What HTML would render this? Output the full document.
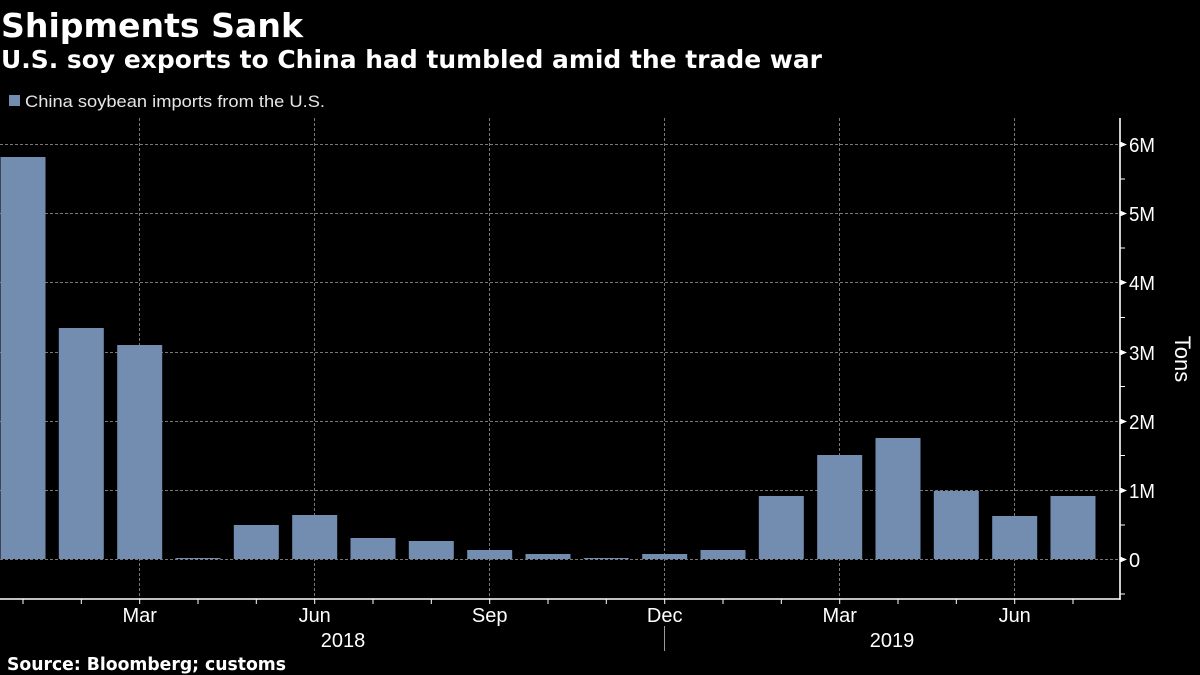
<!DOCTYPE html>
<html>
<head>
<meta charset="utf-8">
<style>
html,body{margin:0;padding:0;background:#000;}
svg{display:block;}
</style>
</head>
<body>
<svg width="1200" height="675" viewBox="0 0 1200 675" xmlns="http://www.w3.org/2000/svg">
<rect x="0" y="0" width="1200" height="675" fill="#000"/>
<!-- Titles -->
<text x="1" y="37" font-family="DejaVu Sans, Liberation Sans, sans-serif" font-weight="bold" font-size="33" fill="#fff" textLength="302" lengthAdjust="spacingAndGlyphs">Shipments Sank</text>
<text x="1" y="68" font-family="DejaVu Sans, Liberation Sans, sans-serif" font-weight="bold" font-size="25" fill="#fff" textLength="821" lengthAdjust="spacingAndGlyphs">U.S. soy exports to China had tumbled amid the trade war</text>
<!-- Legend -->
<rect x="9" y="95" width="11" height="11" fill="#738db0"/>
<text x="25" y="107" font-family="Liberation Sans, sans-serif" font-size="17" fill="#e6e6e6" textLength="300" lengthAdjust="spacingAndGlyphs">China soybean imports from the U.S.</text>

<!-- horizontal gridlines -->
<g stroke="#777" stroke-width="1" stroke-dasharray="3,2">
<line x1="0" y1="144.5" x2="1120" y2="144.5"/>
<line x1="0" y1="213.5" x2="1120" y2="213.5"/>
<line x1="0" y1="282.5" x2="1120" y2="282.5"/>
<line x1="0" y1="352.5" x2="1120" y2="352.5"/>
<line x1="0" y1="421.5" x2="1120" y2="421.5"/>
<line x1="0" y1="490.5" x2="1120" y2="490.5"/>
<line x1="0" y1="559.5" x2="1120" y2="559.5"/>
<!-- vertical gridlines -->
<line x1="139.5" y1="118" x2="139.5" y2="599"/>
<line x1="314.5" y1="118" x2="314.5" y2="599"/>
<line x1="489.5" y1="118" x2="489.5" y2="599"/>
<line x1="664.5" y1="118" x2="664.5" y2="599"/>
<line x1="839.5" y1="118" x2="839.5" y2="599"/>
<line x1="1014.5" y1="118" x2="1014.5" y2="599"/>
</g>

<!-- bars -->
<g fill="#738db0">
<rect x="0.5" y="157" width="45" height="402"/>
<rect x="58.8" y="328" width="45" height="231"/>
<rect x="117.2" y="345" width="45" height="214"/>
<rect x="175.5" y="558" width="45" height="1"/>
<rect x="233.8" y="525" width="45" height="34"/>
<rect x="292.2" y="515" width="45" height="44"/>
<rect x="350.5" y="538" width="45" height="21"/>
<rect x="408.8" y="541" width="45" height="18"/>
<rect x="467.2" y="550" width="45" height="9"/>
<rect x="525.5" y="554" width="45" height="5"/>
<rect x="583.8" y="558" width="45" height="1"/>
<rect x="642.2" y="554" width="45" height="5"/>
<rect x="700.5" y="550" width="45" height="9"/>
<rect x="758.8" y="496" width="45" height="63"/>
<rect x="817.2" y="455" width="45" height="104"/>
<rect x="875.5" y="438" width="45" height="121"/>
<rect x="933.8" y="491" width="45" height="68"/>
<rect x="992.2" y="516" width="45" height="43"/>
<rect x="1050.5" y="496" width="45" height="63"/>
</g>

<!-- axes -->
<g stroke="#fff">
<line x1="0" y1="599" x2="1120.8" y2="599" stroke-width="1.6"/>
<line x1="1120" y1="118" x2="1120" y2="599.8" stroke-width="1.6"/>
<!-- x ticks -->
<g stroke-width="1">
<line x1="23" y1="599" x2="23" y2="604"/>
<line x1="81.3" y1="599" x2="81.3" y2="604"/>
<line x1="139.7" y1="599" x2="139.7" y2="604"/>
<line x1="198" y1="599" x2="198" y2="604"/>
<line x1="256.3" y1="599" x2="256.3" y2="604"/>
<line x1="314.7" y1="599" x2="314.7" y2="604"/>
<line x1="373" y1="599" x2="373" y2="604"/>
<line x1="431.3" y1="599" x2="431.3" y2="604"/>
<line x1="489.7" y1="599" x2="489.7" y2="604"/>
<line x1="548" y1="599" x2="548" y2="604"/>
<line x1="606.3" y1="599" x2="606.3" y2="604"/>
<line x1="664.7" y1="599" x2="664.7" y2="604"/>
<line x1="723" y1="599" x2="723" y2="604"/>
<line x1="781.3" y1="599" x2="781.3" y2="604"/>
<line x1="839.7" y1="599" x2="839.7" y2="604"/>
<line x1="898" y1="599" x2="898" y2="604"/>
<line x1="956.3" y1="599" x2="956.3" y2="604"/>
<line x1="1014.7" y1="599" x2="1014.7" y2="604"/>
<line x1="1073" y1="599" x2="1073" y2="604"/>
<!-- y minor ticks -->
<line x1="1120" y1="179" x2="1125" y2="179"/>
<line x1="1120" y1="248" x2="1125" y2="248"/>
<line x1="1120" y1="317.5" x2="1125" y2="317.5"/>
<line x1="1120" y1="386.5" x2="1125" y2="386.5"/>
<line x1="1120" y1="455.5" x2="1125" y2="455.5"/>
<line x1="1120" y1="525" x2="1125" y2="525"/>
<line x1="1120" y1="594" x2="1125" y2="594"/>
</g>
</g>
<!-- y major tick triangles -->
<g fill="#fff">
<polygon points="1120,141.5 1127,144.5 1120,147.5"/>
<polygon points="1120,210.5 1127,213.5 1120,216.5"/>
<polygon points="1120,279.5 1127,282.5 1120,285.5"/>
<polygon points="1120,349.5 1127,352.5 1120,355.5"/>
<polygon points="1120,418.5 1127,421.5 1120,424.5"/>
<polygon points="1120,487.5 1127,490.5 1120,493.5"/>
<polygon points="1120,556.5 1127,559.5 1120,562.5"/>
</g>
<!-- y labels -->
<g font-family="Liberation Sans, sans-serif" font-size="20" fill="#fff">
<text x="1129" y="152" textLength="26" lengthAdjust="spacingAndGlyphs">6M</text>
<text x="1129" y="221" textLength="26" lengthAdjust="spacingAndGlyphs">5M</text>
<text x="1129" y="290" textLength="26" lengthAdjust="spacingAndGlyphs">4M</text>
<text x="1129" y="360" textLength="26" lengthAdjust="spacingAndGlyphs">3M</text>
<text x="1129" y="429" textLength="26" lengthAdjust="spacingAndGlyphs">2M</text>
<text x="1129" y="498" textLength="26" lengthAdjust="spacingAndGlyphs">1M</text>
<text x="1129" y="567">0</text>
</g>
<text transform="translate(1175,359) rotate(90)" text-anchor="middle" font-family="Liberation Sans, sans-serif" font-size="22" fill="#fff">Tons</text>

<!-- x labels -->
<g font-family="Liberation Sans, sans-serif" font-size="20" fill="#fff" text-anchor="middle">
<text x="139.7" y="622">Mar</text>
<text x="314.7" y="622">Jun</text>
<text x="489.7" y="622">Sep</text>
<text x="664.7" y="622">Dec</text>
<text x="839.7" y="622">Mar</text>
<text x="1014.7" y="622">Jun</text>
<text x="343" y="647">2018</text>
<text x="892" y="647">2019</text>
</g>
<line x1="664.5" y1="626" x2="664.5" y2="651" stroke="#999" stroke-width="1"/>

<!-- source -->
<text x="7" y="670" font-family="DejaVu Sans, Liberation Sans, sans-serif" font-weight="bold" font-size="17.5" fill="#fff" textLength="279" lengthAdjust="spacingAndGlyphs">Source: Bloomberg; customs</text>
</svg>
</body>
</html>
